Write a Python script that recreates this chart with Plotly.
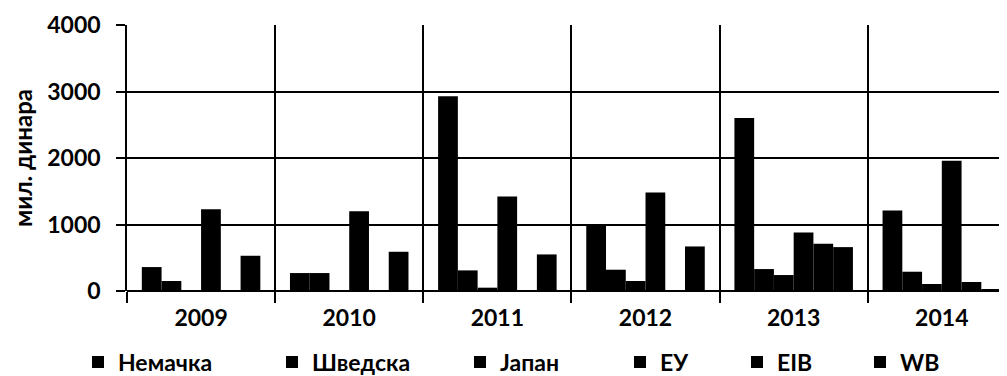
import plotly.graph_objects as go

years = ["2009", "2010", "2011", "2012", "2013", "2014"]
series_names = ["Немачка", "Шведска", "Јапан", "ЕУ", "EIB", "WB"]
nemacka = [360, 270, 2930, 990, 2600, 1210]
svedska = [150, 270, 310, 320, 330, 290]
japan = [0, 0, 50, 150, 240, 105]
eu = [1230, 1200, 1420, 1480, 880, 1960]
eib = [0, 0, 0, 0, 710, 135]
wb = [530, 590, 550, 670, 660, 30]
values = [nemacka, svedska, japan, eu, eib, wb]

# legend text start positions (px, screen) in the reference
legend_text_px = [118, 312, 500, 660, 777, 900]

FONT = "Lato"
W, H = 1007, 376
OFF = 8  # page body margin
ml, mr, mt, mb = 119, 8, 17, 93
pw = W - ml - mr
ph = H - mt - mb

fig = go.Figure()
for i, (name, vals) in enumerate(zip(series_names, values)):
    lg = "legend" if i == 0 else f"legend{i+1}"
    fig.add_trace(go.Bar(
        x=years, y=vals, name=name,
        marker=dict(color="black", line=dict(width=0)),
        legend=lg,
    ))
    fig.update_layout(**{lg: dict(
        x=(legend_text_px[i] - 48 - ml) / pw, xanchor="left",
        y=(H - mb - (362 - OFF)) / ph, yanchor="middle", yref="paper",
        orientation="h", bgcolor="rgba(0,0,0,0)",
        font=dict(family=FONT, size=23, color="black", weight="bold"),
        itemwidth=30, tracegroupgap=0,
    )})

fig.update_layout(
    width=W, height=H,
    margin=dict(l=ml, r=mr, t=mt, b=mb, autoexpand=False),
    paper_bgcolor="white", plot_bgcolor="white",
    barmode="group", bargap=0.2, bargroupgap=0,
    font=dict(family=FONT, color="black"),
    showlegend=True,
)
fig.update_xaxes(
    type="category", range=[-0.5, 5.44],
    tickson="boundaries", ticks="outside", ticklen=11, tickwidth=1.5, tickcolor="black",
    showgrid=True, gridcolor="black", gridwidth=1.5,
    showline=False, automargin=False,
    ticklabelstandoff=11,
    tickfont=dict(family=FONT, size=23, color="black", weight="bold"),
)
fig.update_yaxes(
    range=[0, 4000], tickvals=[0, 1000, 2000, 3000, 4000],
    ticks="outside", ticklen=9, tickwidth=1.5, tickcolor="black",
    showgrid=True, gridcolor="black", gridwidth=1.5,
    showline=True, linecolor="black", linewidth=1.5,
    zeroline=True, zerolinecolor="black", zerolinewidth=1.5,
    ticklabelstandoff=11, automargin=False,
    tickfont=dict(family=FONT, size=23, color="black", weight="bold"),
    title=dict(text="мил. динара", standoff=13,
               font=dict(family=FONT, size=24, color="black", weight="bold")),
)
fig.write_html("out.html")
